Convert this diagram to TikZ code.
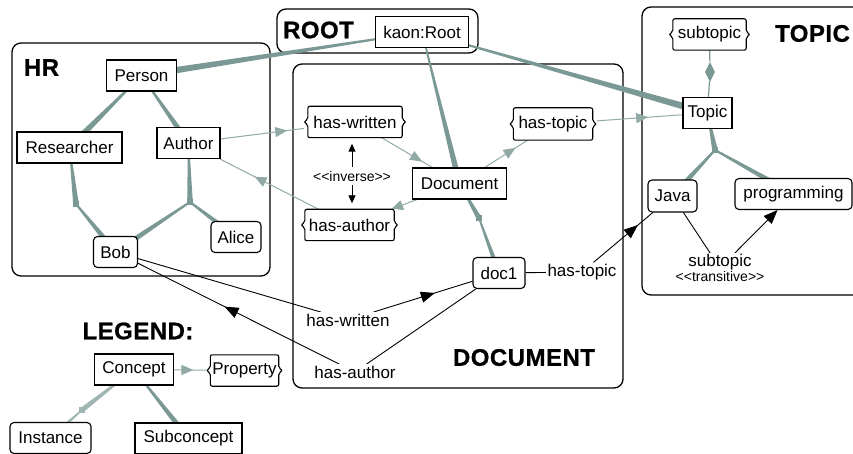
\documentclass[tikz,border=0pt]{standalone}
\usepackage{fontspec}
\setmainfont{Liberation Sans}
\newfontfamily\heavyfont{Liberation Sans Bold}[FakeBold=0.8, LetterSpace=2]
\usetikzlibrary{calc,arrows.meta,decorations.markings,shapes.geometric}
\pgfdeclarelayer{bg}
\pgfsetlayers{bg,main}
\definecolor{edgecol}{RGB}{122,152,148}
\definecolor{propcol}{RGB}{145,170,166}
\definecolor{instcol}{RGB}{160,182,178}
\newcommand\tapr[5][edgecol]{\fill[#1] ($(#2)!#4!90:(#3)$) -- ($(#2)!#4!-90:(#3)$) -- ($(#3)!#5!90:(#2)$) -- ($(#3)!#5!-90:(#2)$) -- cycle;}
\newcommand\propframe[1]{\draw[line width=1.1pt, rounded corners=2pt] ([xshift=4pt]#1.north west) -- ([xshift=-4pt]#1.north east) -- ([xshift=-4pt,yshift=2.5pt]#1.east) -- (#1.east) -- ([xshift=-4pt,yshift=-2.5pt]#1.east) -- ([xshift=-4pt]#1.south east) -- ([xshift=4pt]#1.south west) -- ([xshift=4pt,yshift=-2.5pt]#1.west) -- (#1.west) -- ([xshift=4pt,yshift=2.5pt]#1.west) -- cycle;}
\tikzset{
  base/.style={font=\fontsize{17}{19}\selectfont, inner sep=2pt, minimum height=31pt, fill=white},
  concept/.style={base, draw, line width=1.1pt},
  inst/.style={concept, rounded corners=4pt},
  prop/.style={base},
  lab/.style={font=\fontsize{17}{19}\selectfont, inner sep=1.5pt, fill=white},
  smalllab/.style={font=\fontsize{14}{15}\selectfont, inner sep=1pt},
  grp/.style={line width=1.3pt, rounded corners=9pt},
  grptitle/.style={font=\fontsize{24}{26}\heavyfont, inner sep=0pt},
  junc/.style={rectangle, fill=edgecol, minimum size=5.5pt, inner sep=0pt},
  propedge/.style={draw=propcol, color=propcol, line width=1pt},
  blk/.style={draw=black, line width=0.9pt},
  midarr/.style={postaction={decorate, decoration={markings, mark=at position #1 with {\arrow{Triangle[length=12pt,width=10pt]}}}}},
  bigarr/.style={postaction={decorate, decoration={markings, mark=at position #1 with {\arrow{Triangle[length=14pt,width=11pt]}}}}},
}
\begin{document}
\begin{tikzpicture}[x=1pt,y=-1pt]
\useasboundingbox (0,0) rectangle (853,454);

% group titles
\node[grptitle] (hrT) at (41.5,67.5) {HR};
\node[grptitle] (rootT) at (318.5,30) {ROOT};
\node[grptitle] (topicT) at (812.5,33.5) {TOPIC};
\node[grptitle] (docT) at (524,357.5) {DOCUMENT};
\node[grptitle] (legT) at (138,331) {LEGEND:};

% concepts
\node[concept, minimum width=70pt] (Person) at (141.5,75.5) {Person};
\node[concept, minimum width=105pt] (Researcher) at (69.5,147.5) {Researcher};
\node[concept, minimum width=63pt] (Author) at (188.5,143) {Author};
\node[inst, minimum width=44pt] (Bob) at (115.5,252) {Bob};
\node[inst, minimum width=50pt] (Alice) at (236,237) {Alice};
\node[concept, minimum width=93pt] (Root) at (422,32) {kaon:Root};
\node[prop, minimum width=102pt] (hw) at (355,122) {has-written};
\node[prop, minimum width=87pt, minimum height=32pt] (ht) at (553,124) {has-topic};
\node[concept, minimum width=94pt] (Document) at (459.5,183.5) {Document};
\node[prop, minimum width=97pt] (ha) at (349.5,225) {has-author};
\node[inst, minimum width=52pt] (doc1) at (499,273) {doc1};
\node[prop, minimum width=81pt] (st) at (709.5,34.5) {subtopic};
\node[concept, minimum width=49pt] (Topic) at (707.5,113) {Topic};
\node[inst, minimum width=49pt, minimum height=32pt] (Java) at (672.5,196) {Java};
\node[inst, minimum width=117pt] (prog) at (793.5,194) {programming};
\node[concept, minimum width=79pt] (Concept) at (134,369.5) {Concept};
\node[prop, minimum width=76pt] (Property) at (244.5,370.5) {Property};
\node[inst, minimum width=81pt] (Instance) at (50.5,438) {Instance};
\node[concept, minimum width=107pt] (Subconcept) at (188.5,438.5) {Subconcept};
\propframe{hw}
\propframe{ht}
\propframe{ha}
\propframe{st}
\propframe{Property}

% junctions
\node[junc] (j1) at (76,204) {};
\node[junc] (j2) at (190,202) {};
\node[junc] (j3) at (715,150) {};
\node[junc] (j4) at (479,218) {};
\node[junc, fill=instcol] (j5) at (82,410) {};
\node[diamond, fill=edgecol, minimum width=10pt, minimum height=20pt, inner sep=0pt] (dia) at (710,72) {};

% labels
\node[smalllab] (inv) at (352,176) {<\kern0pt<inverse>\kern0pt>};
\node[lab] (hw2) at (348,320) {has-written};
\node[lab] (ha2) at (355,372) {has-author};
\node[lab] (ht3) at (582,272) {has-topic};
\node[lab, align=center, inner sep=1pt] (trans) at (720,268) {subtopic\\[-4pt]{\fontsize{14}{15}\selectfont <\kern0pt<transitive>\kern0pt>}};

\begin{pgfonlayer}{bg}
% group boxes
\draw[grp] (12,43) rectangle (270,276);
\draw[grp] (277,9) rectangle (478,53);
\draw[grp] (293,64) rectangle (623,388);
\draw[grp] (853,7) -- (642,7) -- (642,295) -- (853,295);

% subclass / instance links
\tapr{Root}{Person}{0.6pt}{3.5pt}
\tapr{Root}{Document}{0.6pt}{3pt}
\tapr{Root}{Topic}{0.6pt}{3.5pt}
\tapr{Person}{Researcher}{0.6pt}{3.5pt}
\tapr{Person}{Author}{0.6pt}{3pt}
\tapr{Researcher}{j1}{0.6pt}{2.8pt}
\tapr{j1}{Bob}{1pt}{3pt}
\tapr{Author}{j2}{0.6pt}{2.8pt}
\tapr{j2}{Bob}{1pt}{3pt}
\tapr{j2}{Alice}{1pt}{3pt}
\tapr{Topic}{j3}{0.6pt}{2.8pt}
\tapr{j3}{Java}{1pt}{3pt}
\tapr{j3}{prog}{1pt}{3pt}
\tapr{Document}{j4}{0.6pt}{2.5pt}
\tapr{j4}{doc1}{0.8pt}{2.5pt}
\tapr{Concept}{Subconcept}{0.6pt}{3pt}
\tapr[instcol]{Concept}{j5}{0.6pt}{2.5pt}
\tapr[instcol]{j5}{Instance}{0.8pt}{2pt}
\draw[edgecol, line width=1.2pt] (st) -- (dia) -- (Topic);

% property domain / range
\draw[propedge, midarr=0.8] (Author) -- (hw);
\draw[propedge, midarr=0.8] (hw) -- (Document);
\draw[propedge, midarr=0.72] (Document) -- (ht);
\draw[propedge, midarr=0.6] (ht) -- (Topic);
\draw[propedge, -{Triangle[length=12pt,width=10pt]}] (Document) -- (ha);
\draw[propedge, midarr=0.65] (ha) -- (Author);
\draw[propedge, midarr=0.6] (Concept) -- (Property);

% instance relations
\draw[blk] (Bob) -- (hw2);
\draw[blk, bigarr=0.62] (hw2) -- (doc1);
\draw[blk, bigarr=0.57] (ha2) -- (Bob);
\draw[blk] (ha2) -- (doc1);
\draw[blk] (doc1) -- (ht3);
\draw[blk, bigarr=0.75] (ht3) -- (Java);
\draw[blk] (Java) -- (trans);
\draw[blk, -{Triangle[length=14pt,width=11pt]}] (trans) -- (prog);
\draw[blk, -{Triangle[length=8pt,width=7pt]}, shorten <=3pt, shorten >=6pt] (inv.north) -- (inv.north |- hw.south);
\draw[blk, -{Triangle[length=8pt,width=7pt]}, shorten <=3pt, shorten >=6pt] (inv.south) -- (inv.south |- ha.north);
\end{pgfonlayer}
\end{tikzpicture}
\end{document}
